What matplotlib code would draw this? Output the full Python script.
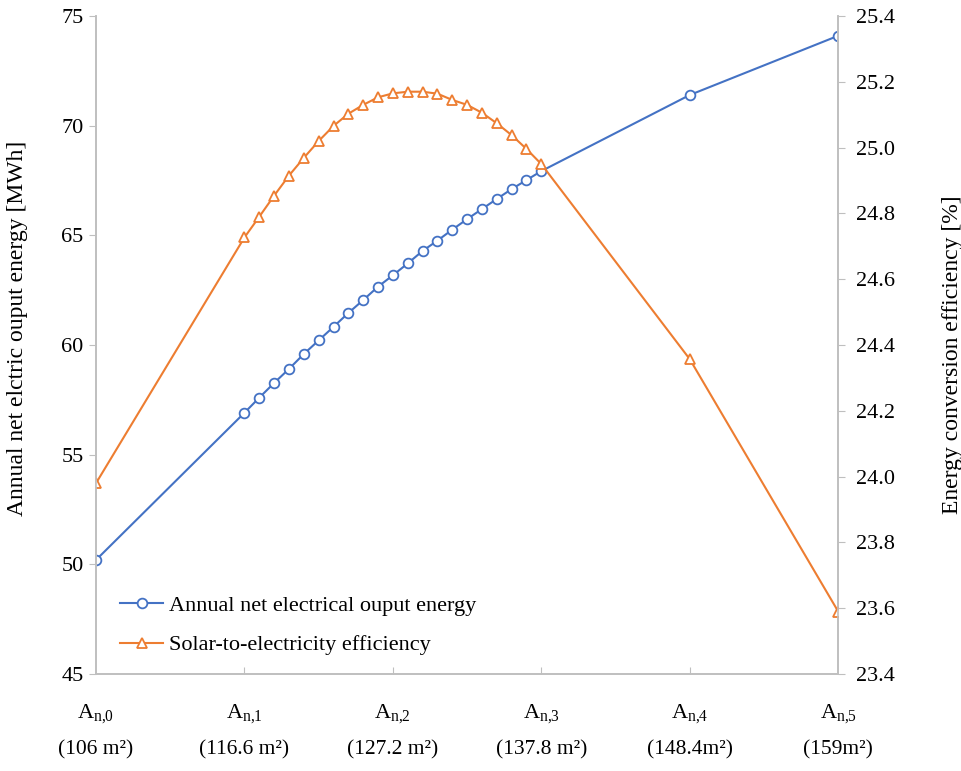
import numpy as np
import matplotlib
matplotlib.use("Agg")
import matplotlib.pyplot as plt
from matplotlib.ticker import FormatStrFormatter

plt.rcParams["font.family"] = ["Liberation Serif", "DejaVu Serif"]
plt.rcParams["mathtext.fontset"] = "custom"
plt.rcParams["mathtext.rm"] = "Liberation Serif"
plt.rcParams["mathtext.it"] = "Liberation Serif"

# ------------------------------
# Data
# ------------------------------
cat_pos = [0, 1, 2, 3, 4, 5]
cat_names = ["0", "1", "2", "3", "4", "5"]
areas = ["(106 m²)", "(116.6 m²)", "(127.2 m²)", "(137.8 m²)", "(148.4m²)", "(159m²)"]

x_pts = [0.0, 1.0, 1.1, 1.2, 1.3, 1.4, 1.5, 1.6, 1.7, 1.8, 1.9, 2.0,
         2.1, 2.2, 2.3, 2.4, 2.5, 2.6, 2.7, 2.8, 2.9, 3.0, 4.0, 5.0]

energy = [50.2, 56.91, 57.60, 58.27, 58.91, 59.59, 60.21, 60.83, 61.46, 62.05,
          62.66, 63.18, 63.72, 64.29, 64.76, 65.26, 65.74, 66.20, 66.66, 67.11,
          67.52, 67.93, 71.4, 74.1]

efficiency = [23.98, 24.727, 24.79, 24.854, 24.915, 24.969, 25.02, 25.066, 25.103,
              25.13, 25.153, 25.165, 25.17, 25.17, 25.164, 25.145, 25.13, 25.106,
              25.074, 25.038, 24.996, 24.95, 24.357, 23.59]

blue = "#4472C4"
orange = "#ED7D31"
grey = "#BFBFBF"

fig = plt.figure(figsize=(9.62, 7.71), dpi=100)
ax = fig.add_axes([0.0998, 0.1258, 0.7715, 0.8534])
ax2 = ax.twinx()

l1, = ax.plot(x_pts, energy, color=blue, lw=1.5, marker="o", ms=7,
              mfc="white", mec=blue, mew=1.3, label="Annual net electrical ouput energy")
l2, = ax2.plot(x_pts, efficiency, color=orange, lw=1.5, marker="^", ms=7.5,
               mfc="white", mec=orange, mew=1.3, label="Solar-to-electricity efficiency")

ax.set_xlim(0, 5)
ax.set_ylim(45, 75)
ax.set_yticks(np.arange(45, 76, 5))
ax2.set_ylim(23.4, 25.4)
ax2.set_yticks(np.arange(23.4, 25.41, 0.2))
ax2.yaxis.set_major_formatter(FormatStrFormatter("%.1f"))

for a in (ax, ax2):
    a.spines["top"].set_visible(False)
    for s in ("left", "right", "bottom"):
        a.spines[s].set_color(grey)
        a.spines[s].set_linewidth(1.2)
ax.tick_params(axis="y", direction="out", length=5, color=grey, labelsize=16, pad=4)
ax2.tick_params(axis="y", direction="out", length=5, color=grey, labelsize=16, pad=8)

ax.set_xticks(cat_pos)
ax.set_xticklabels([r"$\mathrm{A}_{\mathrm{n{,}%s}}$" % c for c in cat_names], fontsize=16)
ax.tick_params(axis="x", direction="in", length=5, color=grey, pad=20)
ax.get_xticklines()[0].set_visible(False)
ax.get_xticklines()[-2].set_visible(False)

for p, t in zip(cat_pos, areas):
    ax.text(p, -0.1155, t, transform=ax.get_xaxis_transform(),
            ha="center", va="center", fontsize=15.5)

ax.set_ylabel("Annual net elctric ouput energy [MWh]", fontsize=17)
ax.yaxis.set_label_coords(-0.092, 0.526)
ax2.set_ylabel("Energy conversion efficiency [%]", fontsize=17)
ax2.yaxis.set_label_coords(1.140, 0.485)

ax.legend(handles=[l1, l2], loc="lower left", bbox_to_anchor=(0.006, -0.002),
          frameon=False, fontsize=16, handlelength=1.9, labelspacing=0.85,
          handletextpad=0.3)

fig.savefig("out.png", dpi=100)
